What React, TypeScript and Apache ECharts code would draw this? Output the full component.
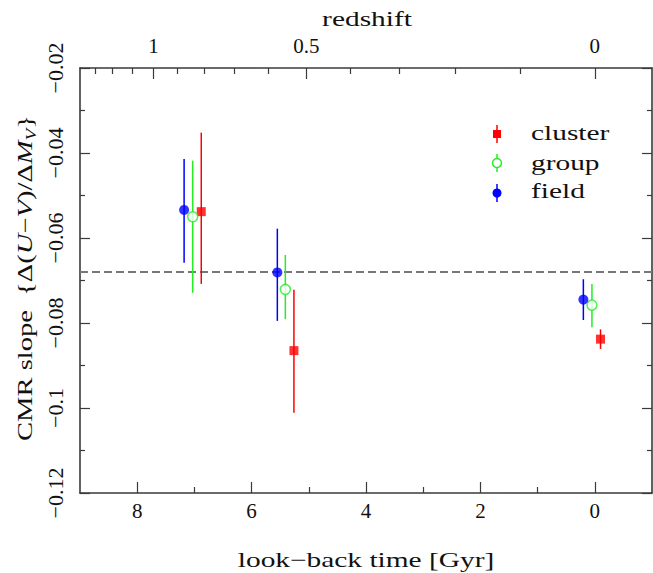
import React, { useEffect, useRef } from "react";
import * as echarts from "echarts";

// CMR slope versus look-back time for three environments
const clusterTime = [6.88, 5.26, -0.1];
const clusterSlope = [-0.0538, -0.0865, -0.0838];
const clusterLow = [-0.0708, -0.1011, -0.0861];
const clusterHigh = [-0.0352, -0.0722, -0.0815];

const groupTime = [7.03, 5.41, 0.05];
const groupSlope = [-0.055, -0.0721, -0.0758];
const groupLow = [-0.0729, -0.0791, -0.081];
const groupHigh = [-0.0418, -0.064, -0.0708];

const fieldTime = [7.18, 5.55, 0.2];
const fieldSlope = [-0.0534, -0.0681, -0.0745];
const fieldLow = [-0.0658, -0.0795, -0.0793];
const fieldHigh = [-0.0414, -0.0578, -0.0697];

const referenceSlope = -0.068;

// axis ticks
const timeMajorTicks = [0, 2, 4, 6, 8];
const timeMinorTicks = [1, 3, 5, 7];
const redshiftMajorTicks = [0, 0.5, 1];
const redshiftMinorTicks = [0.1, 0.2, 0.3, 0.4, 0.6, 0.7, 0.8, 0.9, 1.1, 1.2, 1.3];

const FONT = "Liberation Serif";
const FONT_SIZE = 21;
const STRETCH = 1.4; // wide lettering for titles and legend
const INK = "#111";
const FRAME = "#3a3a3a";
const RED = "#ff0000";
const GREEN = "#22ee22";
const BLUE = "#0000ff";

// flat LCDM, H0 = 70, Om = 0.3, OL = 0.7
const HUBBLE_TIME_GYR = 977.8 / 70;
function lookbackTime(z: number): number {
  if (z === 0) return 0;
  const n = 200;
  const h = z / n;
  const f = (x: number) => 1 / ((1 + x) * Math.sqrt(0.3 * Math.pow(1 + x, 3) + 0.7));
  let s = f(0) + f(z);
  for (let i = 1; i < n; i++) s += (i % 2 ? 4 : 2) * f(i * h);
  return (HUBBLE_TIME_GYR * s * h) / 3;
}

const redshiftMajorTimes = redshiftMajorTicks.map(lookbackTime);
const redshiftMinorTimes = redshiftMinorTicks.map(lookbackTime);

let measureCtx: CanvasRenderingContext2D | null = null;
function textWidth(text: string, size: number, italic: boolean): number {
  if (!measureCtx) measureCtx = document.createElement("canvas").getContext("2d");
  if (!measureCtx) return text.length * size * 0.5;
  measureCtx.font = `${italic ? "italic " : ""}${size}px "${FONT}"`;
  return measureCtx.measureText(text).width;
}

function errorRows(t: number[], lo: number[], hi: number[]) {
  return t.map((x, i) => [x, lo[i], hi[i]]);
}
function pointRows(t: number[], y: number[]) {
  return t.map((x, i) => [x, y[i]]);
}

function errorBars(name: string, color: string, t: number[], lo: number[], hi: number[]) {
  return {
    type: "custom",
    name,
    xAxisIndex: 0,
    yAxisIndex: 0,
    data: errorRows(t, lo, hi),
    encode: { x: 0, y: [1, 2] },
    z: 2,
    renderItem: (_p: any, api: any) => {
      const a = api.coord([api.value(0), api.value(1)]);
      const b = api.coord([api.value(0), api.value(2)]);
      return {
        type: "line",
        shape: { x1: a[0], y1: a[1], x2: b[0], y2: b[1] },
        style: { stroke: color, lineWidth: 1.5 },
      };
    },
  };
}

const minus = (v: number) => String(parseFloat(v.toFixed(3))).replace("-", "\u2212");

const labelText = { fontFamily: FONT, fontSize: FONT_SIZE, color: INK };

// y-axis title, laid out piece by piece so that braces and the subscript render as drawn
function yTitle(): any {
  const pieces: { t: string; italic?: boolean; sub?: boolean }[] = [
    { t: "CMR slope  {\u0394(" },
    { t: "U", italic: true },
    { t: "\u2212" },
    { t: "V", italic: true },
    { t: ")/\u0394" },
    { t: "M", italic: true },
    { t: "V", italic: true, sub: true },
    { t: "}" },
  ];
  const subSize = 14;
  const widths = pieces.map((p) => textWidth(p.t, p.sub ? subSize : FONT_SIZE, !!p.italic));
  const total = widths.reduce((a, b) => a + b, 0);
  let cursor = -total / 2;
  const children = pieces.map((p, i) => {
    const el = {
      type: "text",
      x: cursor,
      y: p.sub ? 6 : 0,
      style: {
        text: p.t,
        fontFamily: FONT,
        fontSize: p.sub ? subSize : FONT_SIZE,
        fontStyle: p.italic ? "italic" : "normal",
        fill: INK,
        align: "left",
        verticalAlign: "middle",
      },
    };
    cursor += widths[i];
    return el;
  });
  return { type: "group", x: 25, y: 278, rotation: Math.PI / 2, scaleX: 1.36, children };
}

function titleText(text: string, x: number, y: number, align: string) {
  return {
    type: "text",
    x,
    y,
    scaleX: STRETCH,
    style: { text, fontFamily: FONT, fontSize: FONT_SIZE, fill: INK, align, verticalAlign: "middle" },
  };
}

function buildOption(): any {
  const timeAxisBase = {
    type: "value",
    min: -1,
    max: 9,
    inverse: true,
    splitLine: { show: false },
  };
  const tickStyle = { color: FRAME, width: 1.2 };
  const lineStyle = { color: FRAME, width: 1.6 };
  return {
    animation: false,
    backgroundColor: "#fff",
    textStyle: { fontFamily: FONT },
    grid: { left: 80, right: 1, top: 68, bottom: 80 },
    xAxis: [
      {
        ...timeAxisBase,
        position: "bottom",
        axisLine: { show: true, onZero: false, lineStyle },
        axisTick: { show: true, inside: true, length: 11, customValues: timeMajorTicks, lineStyle: tickStyle },
        axisLabel: { show: true, customValues: timeMajorTicks, margin: 7, ...labelText, formatter: (v: number) => minus(v) },
      },
      {
        ...timeAxisBase,
        position: "bottom",
        axisLine: { show: false, onZero: false },
        axisTick: { show: true, inside: true, length: 6, customValues: timeMinorTicks, lineStyle: tickStyle },
        axisLabel: { show: false },
      },
      {
        ...timeAxisBase,
        position: "top",
        axisLine: { show: true, onZero: false, lineStyle },
        axisTick: { show: true, inside: true, length: 11, customValues: redshiftMajorTimes, lineStyle: tickStyle },
        axisLabel: {
          show: true,
          customValues: redshiftMajorTimes,
          margin: 12,
          ...labelText,
          formatter: (v: number) => {
            let best = 0;
            redshiftMajorTimes.forEach((t, i) => {
              if (Math.abs(t - v) < Math.abs(redshiftMajorTimes[best] - v)) best = i;
            });
            return String(redshiftMajorTicks[best]);
          },
        },
      },
      {
        ...timeAxisBase,
        position: "top",
        axisLine: { show: false, onZero: false },
        axisTick: { show: true, inside: true, length: 6, customValues: redshiftMinorTimes, lineStyle: tickStyle },
        axisLabel: { show: false },
      },
    ],
    yAxis: [
      {
        type: "value",
        position: "left",
        min: -0.12,
        max: -0.02,
        interval: 0.02,
        splitLine: { show: false },
        axisLine: { show: true, onZero: false, lineStyle },
        axisTick: { show: true, inside: true, length: 10, lineStyle: tickStyle },
        minorTick: { show: true, splitNumber: 2, length: 5, lineStyle: tickStyle },
        axisLabel: {
          show: true,
          rotate: 90,
          margin: 14,
          showMinLabel: true,
          showMaxLabel: true,
          ...labelText,
          fontSize: 22,
          formatter: (v: number) => minus(v),
        },
      },
      {
        type: "value",
        position: "right",
        min: -0.12,
        max: -0.02,
        interval: 0.02,
        splitLine: { show: false },
        axisLine: { show: true, onZero: false, lineStyle },
        axisTick: { show: true, inside: true, length: 10, lineStyle: tickStyle },
        minorTick: { show: true, splitNumber: 2, length: 5, lineStyle: tickStyle },
        axisLabel: { show: false },
      },
    ],
    series: [
      {
        type: "line",
        name: "reference",
        xAxisIndex: 0,
        yAxisIndex: 0,
        data: [
          [-1, referenceSlope],
          [9, referenceSlope],
        ],
        symbol: "none",
        silent: true,
        lineStyle: { color: "#777", width: 2, type: [8, 4] },
        z: 1,
      },
      errorBars("cluster-err", RED, clusterTime, clusterLow, clusterHigh),
      errorBars("group-err", GREEN, groupTime, groupLow, groupHigh),
      errorBars("field-err", BLUE, fieldTime, fieldLow, fieldHigh),
      {
        type: "scatter",
        name: "cluster",
        data: pointRows(clusterTime, clusterSlope),
        symbol: "rect",
        symbolSize: 9,
        itemStyle: { color: RED },
        z: 3,
      },
      {
        type: "scatter",
        name: "group",
        data: pointRows(groupTime, groupSlope),
        symbol: "circle",
        symbolSize: 10,
        itemStyle: { color: "#fff", borderColor: GREEN, borderWidth: 1.5 },
        z: 3,
      },
      {
        type: "scatter",
        name: "field",
        data: pointRows(fieldTime, fieldSlope),
        symbol: "circle",
        symbolSize: 10,
        itemStyle: { color: BLUE },
        z: 3,
      },
    ],
    graphic: [
      titleText("redshift", 367, 19, "center"),
      titleText("look\u2212back time [Gyr]", 366, 560, "center"),
      yTitle(),
      // legend: marker with a short error bar, then the label
      { type: "line", shape: { x1: 497, y1: 125, x2: 497, y2: 143 }, style: { stroke: RED, lineWidth: 1.5 } },
      { type: "rect", shape: { x: 493, y: 130, width: 8, height: 8 }, style: { fill: RED } },
      titleText("cluster", 531, 133, "left"),
      { type: "line", shape: { x1: 497, y1: 154, x2: 497, y2: 172 }, style: { stroke: GREEN, lineWidth: 1.5 } },
      { type: "circle", shape: { cx: 497, cy: 163, r: 4.5 }, style: { fill: "#fff", stroke: GREEN, lineWidth: 1.5 } },
      titleText("group", 531, 163, "left"),
      { type: "line", shape: { x1: 497, y1: 184, x2: 497, y2: 202 }, style: { stroke: BLUE, lineWidth: 1.5 } },
      { type: "circle", shape: { cx: 497, cy: 193, r: 4.5 }, style: { fill: BLUE } },
      titleText("field", 531, 191, "left"),
    ],
  };
}

export default function App() {
  const ref = useRef<HTMLDivElement>(null);
  useEffect(() => {
    if (!ref.current) return;
    const chart = echarts.init(ref.current, null, { renderer: "svg" });
    chart.setOption(buildOption());
    return () => chart.dispose();
  }, []);
  return (
    <div
      ref={ref}
      style={{ position: "fixed", left: 0, top: 0, width: 653, height: 573, background: "#fff" }}
    />
  );
}
